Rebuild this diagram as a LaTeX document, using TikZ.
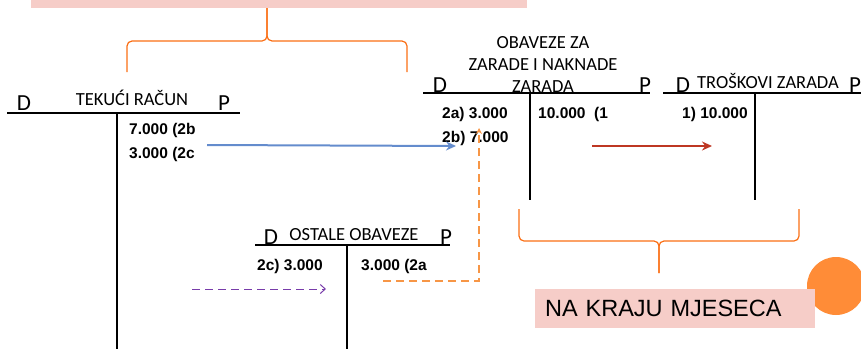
\documentclass[tikz,border=0pt]{standalone}
\usepackage{fontspec}
\setmainfont{Liberation Sans}
\newfontfamily\calibri{Carlito}
\usetikzlibrary{arrows.meta}

\definecolor{roza}{RGB}{246,205,200}
\definecolor{krug}{RGB}{255,140,55}
\definecolor{zagr}{RGB}{250,110,20}
\definecolor{plava}{RGB}{100,140,205}
\definecolor{crvena}{RGB}{190,55,35}
\definecolor{crtkano}{RGB}{247,150,70}
\definecolor{ljub}{RGB}{120,60,170}

\tikzset{
  konto/.style={line width=1.2pt},
  iznos/.style={font=\bfseries\fontsize{15.5}{18}\selectfont, anchor=base west, inner sep=0pt},
  naslov/.style={font=\calibri\fontsize{18.5}{22}\selectfont, anchor=base, inner sep=0pt, align=center},
  strana/.style={font=\calibri\fontsize{23}{26}\selectfont, anchor=base, inner sep=0pt},
  zagrada/.style={draw=zagr, line width=1.2pt, rounded corners=5pt},
}

\begin{document}
\begin{tikzpicture}[x=1pt, y=-1pt]
    \useasboundingbox (0, 0) rectangle (861, 349);

    % gornja traka i zagrada
    \fill[roza] (31, 0) rectangle (527, 8);
    \draw[zagrada] (127, 72) -- (127, 41) -- (267, 41) -- (267, 8);
    \draw[zagrada] (407, 72) -- (407, 41) -- (267, 41) -- (267, 8);

    % tekuci racun
    \draw[konto] (7, 113) -- (240, 113);
    \draw[konto] (117, 113) -- (117, 349);
    \node[strana] (tD) at (24, 110) {D};
    \node[naslov] (tN) at (132, 105) {TEKUĆI RAČUN};
    \node[strana] (tP) at (224, 110) {P};
    \node[iznos] (t1) at (129, 134) {7.000 (2b};
    \node[iznos] (t2) at (129, 158) {3.000 (2c};

    % obaveze za zarade
    \draw[konto] (423, 93) -- (650, 93);
    \draw[konto] (530, 93) -- (530, 200);
    \node[strana] (oD) at (440, 92) {D};
    \node[naslov] (oN) at (543, 92) {OBAVEZE ZA\\ZARADE I NAKNADE\\ZARADA};
    \node[strana] (oP) at (645, 92) {P};
    \node[iznos] (o1) at (442, 118) {2a) 3.000};
    \node[iznos] (o2) at (442, 142) {2b) 7.000};
    \node[iznos] (o3) at (538, 118) {10.000\ \ (1};

    % troskovi zarada
    \draw[konto] (663, 93) -- (861, 93);
    \draw[konto] (755, 93) -- (755, 200);
    \node[strana] (zD) at (683, 92) {D};
    \node[naslov] (zN) at (768, 88) {TROŠKOVI ZARADA};
    \node[strana] (zP) at (855, 92) {P};
    \node[iznos] (z1) at (682, 118) {1) 10.000};

    % ostale obaveze
    \draw[konto] (255, 245) -- (450, 245);
    \draw[konto] (347, 245) -- (347, 349);
    \node[strana] (sD) at (271, 244) {D};
    \node[naslov] (sN) at (354, 240) {OSTALE OBAVEZE};
    \node[strana] (sP) at (446, 244) {P};
    \node[iznos] (s1) at (257, 270) {2c) 3.000};
    \node[iznos] (s2) at (361, 270) {3.000 (2a};

    % strelice
    \coordinate (b1) at (207, 145);
    \coordinate (b2) at (456, 146);
    \coordinate (r1) at (592, 146);
    \coordinate (r2) at (712, 146);
    \coordinate (c1) at (383, 281);
    \coordinate (c2) at (479, 281);
    \coordinate (c3) at (479, 128);
    \coordinate (l1) at (192, 289);
    \coordinate (l2) at (326, 289);
    \draw[plava, line width=2pt, -{Stealth[length=10pt, width=9pt]}] (b1) -- (b2);
    \draw[crvena, line width=2pt, -{Stealth[length=10pt, width=9pt]}] (r1) -- (r2);
    \draw[crtkano, line width=1.3pt, dash pattern=on 8pt off 5pt, -{Stealth[length=6pt, width=6pt]}] (c1) -- (c2) -- (c3);
    \draw[ljub, line width=1pt, dash pattern=on 8pt off 5pt, -{Straight Barb[length=5pt, width=9pt]}] (l1) -- (l2);

    % donja zagrada i natpis
    \draw[zagrada] (519, 209) -- (519, 241) -- (659, 241) -- (659, 273);
    \draw[zagrada] (799, 209) -- (799, 241) -- (659, 241) -- (659, 273);
    \fill[krug] (836, 286) circle (29pt);
    \node[fill=roza, anchor=north west, minimum width=280pt, minimum height=39pt,
          inner xsep=10pt, text width=260pt, align=left,
          font=\fontsize{23.5}{26}\selectfont] (kraj) at (535, 289) {NA KRAJU MJESECA};
  \end{tikzpicture}
\end{document}
